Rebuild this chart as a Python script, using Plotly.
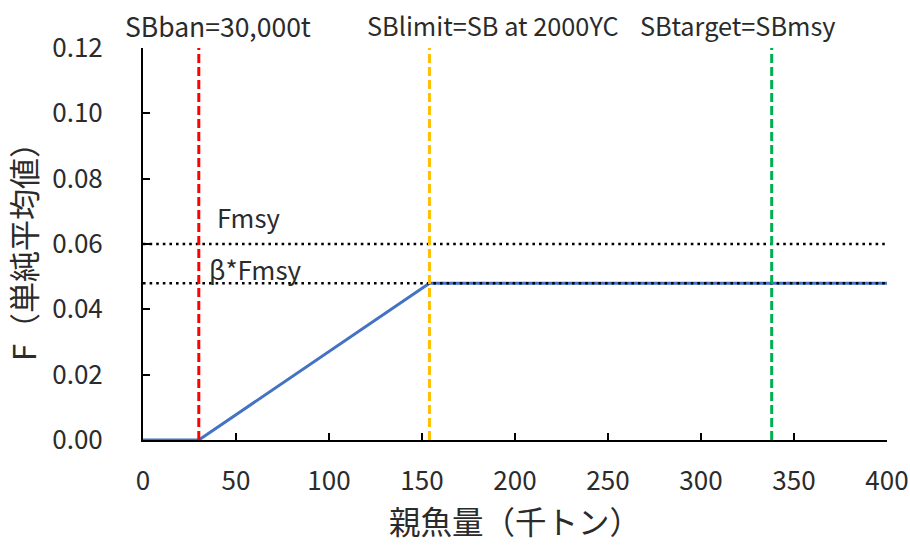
import plotly.graph_objects as go

# Data
sb_ban = 30
sb_limit = 154
sb_target = 338
fmsy = 0.06
beta_fmsy = 0.048
hcr_x = [0, sb_ban, sb_limit, 400]
hcr_y = [0, 0, beta_fmsy, beta_fmsy]
x_ticks = [0, 50, 100, 150, 200, 250, 300, 350, 400]
y_ticks = [0, 0.02, 0.04, 0.06, 0.08, 0.10, 0.12]

FONT = "Noto Sans CJK JP"
TXT = "#2b2b2b"

fig = go.Figure()
# HCR line
fig.add_trace(go.Scatter(x=hcr_x, y=hcr_y, mode="lines",
                         line=dict(color="#4472C4", width=3), showlegend=False))
# horizontal reference lines (dotted)
for yv in [fmsy, beta_fmsy]:
    fig.add_trace(go.Scatter(x=[0, 400], y=[yv, yv], mode="lines",
                             line=dict(color="black", width=2.6, dash="2.6px,4px"),
                             showlegend=False))
# vertical reference lines
for xv, col in [(sb_ban, "#FF0000"), (sb_limit, "#FFC000"), (sb_target, "#00B050")]:
    fig.add_trace(go.Scatter(x=[xv, xv], y=[0, 0.12], mode="lines",
                             line=dict(color=col, width=3, dash="9px,4px"), showlegend=False))

top_labels = [(40.3, "SBban=30,000t", 26.5), (188, "SBlimit=SB at 2000YC", 25.3),
              (319.4, "SBtarget=SBmsy", 25.3)]
for xv, t, fs in top_labels:
    fig.add_annotation(x=xv, y=1.0, xref="x", yref="paper", text=t, showarrow=False,
                       yanchor="middle", yshift=23, font=dict(family=FONT, size=fs, color=TXT))
fig.add_annotation(x=38.5, y=fmsy, text="Fmsy", showarrow=False, xanchor="left",
                   yanchor="middle", yshift=28, font=dict(family=FONT, size=25.7, color=TXT))
fig.add_annotation(x=34.2, y=beta_fmsy, text="β*Fmsy", showarrow=False, xanchor="left",
                   yanchor="middle", yshift=15, font=dict(family=FONT, size=26, color=TXT))

fig.update_layout(
    width=910, height=545,
    margin=dict(l=143, r=23, t=48, b=105),
    plot_bgcolor="white", paper_bgcolor="white",
    font=dict(family=FONT, size=26, color=TXT),
    xaxis=dict(range=[0, 400], tickvals=x_ticks, showgrid=False, zeroline=False,
               showline=True, linecolor="black", linewidth=2, automargin=False,
               ticks="inside", ticklen=7, tickwidth=1.5, tickcolor="black",
               ticklabelstandoff=17,
               title=dict(text="親魚量（千トン）", font=dict(size=31.5), standoff=8)),
    yaxis=dict(range=[0, 0.12], tickvals=y_ticks, tickformat=".2f", showgrid=False,
               zeroline=False, showline=True, linecolor="black", linewidth=2,
               automargin=False,
               ticks="inside", ticklen=7, tickwidth=1.5, tickcolor="black",
               ticklabelstandoff=33,
               title=dict(text="F（単純平均値）", font=dict(size=31), standoff=12)),
)

fig.write_html("out.html")
